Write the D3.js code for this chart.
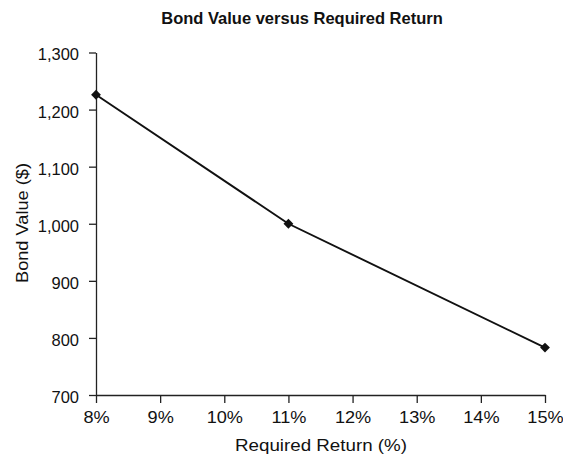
<!DOCTYPE html>
<html>
<head>
<meta charset="utf-8">
<script src="https://cdn.jsdelivr.net/npm/d3@7"></script>
<style>
  html, body { margin: 0; padding: 0; background: #fff; }
  svg { display: block; font-family: "Liberation Sans", Arial, Helvetica, sans-serif; }
</style>
</head>
<body>
<svg id="chart" width="563" height="460"></svg>
<script>
// Bond value at different required returns (11% coupon, 12 years, $1,000 par)
const requiredReturns = [8, 11, 15];
const bondValues = [1226, 1000, 783];
const xTicks = [8, 9, 10, 11, 12, 13, 14, 15];
const yTicks = [700, 800, 900, 1000, 1100, 1200, 1300];

const svg = d3.select("#chart");
const margin = { left: 96, right: 18, top: 52.5, bottom: 65 };
const W = 563, H = 460;

const x = d3.scaleLinear().domain([8, 15]).range([margin.left, W - margin.right]);
const y = d3.scaleLinear().domain([700, 1300]).range([H - margin.bottom, margin.top]);

// Axes
const xAxis = svg.append("g")
  .attr("transform", `translate(0,${y(700)})`)
  .call(d3.axisBottom(x).tickValues(xTicks).tickSize(8).tickSizeOuter(0).tickPadding(8)
    .tickFormat(d => d + "%"));
const yAxis = svg.append("g")
  .attr("transform", `translate(${x(8)},0)`)
  .call(d3.axisLeft(y).tickValues(yTicks).tickSize(7).tickSizeOuter(0).tickPadding(10)
    .tickFormat(d3.format(",")));

[xAxis, yAxis].forEach(g => {
  g.attr("font-size", null).attr("font-family", null);
  g.selectAll("path.domain").attr("stroke", "#222").attr("stroke-width", 1.3);
  g.selectAll(".tick line").attr("stroke", "#222").attr("stroke-width", 1.3);
  g.selectAll(".tick text").attr("fill", "#111").style("font-size", "16.5px");
});
yAxis.selectAll(".tick text").attr("dy", "0.45em");
// slightly wider percent labels
xAxis.selectAll(".tick text").attr("transform", "scale(1.1,1)");

// Line and diamond markers
const pts = requiredReturns.map((r, i) => [r, bondValues[i]]);
svg.append("path")
  .datum(pts)
  .attr("fill", "none")
  .attr("stroke", "#111")
  .attr("stroke-width", 1.9)
  .attr("d", d3.line().x(d => x(d[0])).y(d => y(d[1])));

svg.selectAll("path.marker")
  .data(pts)
  .enter().append("path")
  .attr("class", "marker")
  .attr("transform", d => `translate(${x(d[0])},${y(d[1])}) rotate(45)`)
  .attr("d", d3.symbol().type(d3.symbolSquare).size(48))
  .attr("fill", "#111");

// Title
svg.append("text")
  .attr("x", 302).attr("y", 23.5)
  .attr("text-anchor", "middle")
  .style("font-size", "16.5px").style("font-weight", "bold")
  .attr("fill", "#111")
  .text("Bond Value versus Required Return");

// Axis titles
svg.append("text")
  .attr("x", 321).attr("y", 451)
  .attr("text-anchor", "middle")
  .attr("textLength", 172).attr("lengthAdjust", "spacingAndGlyphs")
  .style("font-size", "17px")
  .attr("fill", "#111")
  .text("Required Return (%)");

svg.append("text")
  .attr("transform", "translate(28,223) rotate(-90)")
  .attr("text-anchor", "middle")
  .attr("textLength", 120).attr("lengthAdjust", "spacingAndGlyphs")
  .style("font-size", "17px")
  .attr("fill", "#111")
  .text("Bond Value ($)");
</script>
</body>
</html>
